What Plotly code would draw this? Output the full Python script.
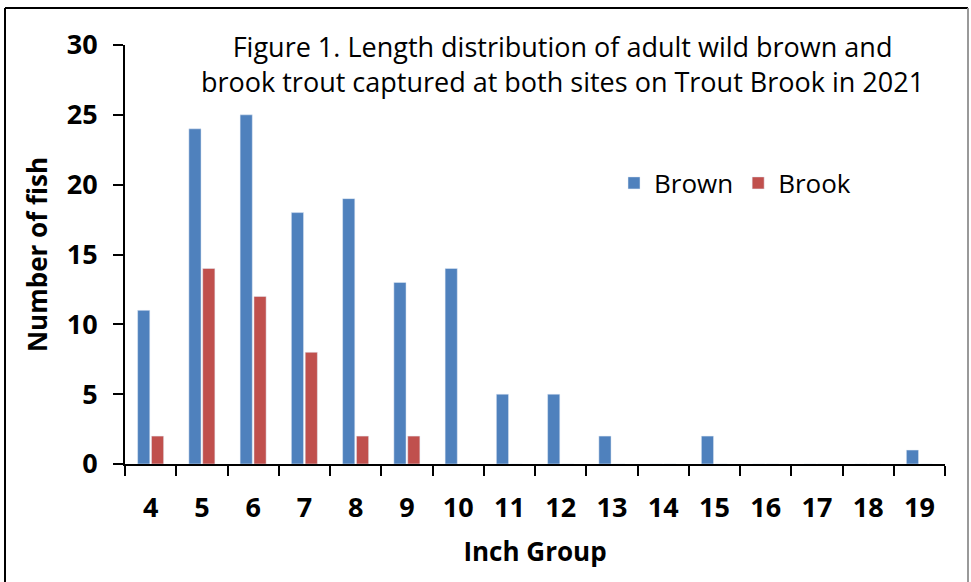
import plotly.graph_objects as go

inch_groups = ["4", "5", "6", "7", "8", "9", "10", "11", "12", "13", "14", "15", "16", "17", "18", "19"]
brown = [11, 24, 25, 18, 19, 13, 14, 5, 5, 2, 0, 2, 0, 0, 0, 1]
brook = [2, 14, 12, 8, 2, 2, 0, 0, 0, 0, 0, 0, 0, 0, 0, 0]

W, H = 971, 582
L, R, T, B = 125, 26, 45, 118
pw, ph = W - L - R, H - T - B

def px(x):
    return (x - L) / pw

def py(y):
    return (H - B - y) / ph

FONT = "Open Sans"

fig = go.Figure()
fig.add_trace(go.Bar(name="Brown", x=inch_groups, y=brown, marker_color="#4F81BD"))
fig.add_trace(go.Bar(name="Brook", x=inch_groups, y=brook, marker_color="#C0504D"))

fig.update_layout(
    width=W, height=H,
    margin=dict(l=L, r=R, t=T, b=B, autoexpand=False),
    paper_bgcolor="white", plot_bgcolor="white",
    barmode="group", bargap=0.46, bargroupgap=0.12,
    font=dict(family=FONT, color="black"),
    legend=dict(orientation="h", x=px(614), y=py(183), xanchor="left", yanchor="middle",
                font=dict(size=26, family=FONT), bgcolor="rgba(0,0,0,0)",
                itemwidth=30, tracegroupgap=0),
    xaxis=dict(showline=True, linecolor="black", linewidth=2, ticks="outside",
               tickson="boundaries", ticklen=10, tickwidth=2, tickcolor="black",
               tickfont=dict(size=27, family=FONT, weight="bold"), ticklabelstandoff=19,
               title=dict(text="<b>Inch Group</b>", font=dict(size=26, family=FONT), standoff=18),
               showgrid=False, automargin=False),
    yaxis=dict(range=[0, 30], dtick=5, showline=True, linecolor="black", linewidth=2,
               ticks="outside", ticklen=10, tickwidth=2, tickcolor="black",
               tickfont=dict(size=27, family=FONT, weight="bold"), ticklabelstandoff=10,
               title=dict(text="<b>Number of fish</b>", font=dict(size=26, family=FONT), standoff=12),
               showgrid=False, zeroline=False, automargin=False),
)

fig.add_annotation(text="Figure 1. Length distribution of adult wild brown and<br>brook trout captured at both sites on Trout Brook in 2021",
                   xref="paper", yref="paper", x=px(562), y=py(64), xanchor="center", yanchor="middle",
                   showarrow=False, font=dict(size=27, family=FONT), align="center")

# chart frame
fig.add_shape(type="line", xref="paper", yref="paper", x0=px(5), x1=px(968), y0=py(8), y1=py(8),
              line=dict(color="black", width=2))
fig.add_shape(type="line", xref="paper", yref="paper", x0=px(5), x1=px(5), y0=py(8), y1=py(590),
              line=dict(color="black", width=2))
fig.add_shape(type="line", xref="paper", yref="paper", x0=px(968), x1=px(968), y0=py(8), y1=py(590),
              line=dict(color="#999999", width=2))

fig.write_html("out.html", config={"displayModeBar": False},
               post_script="document.body.style.margin='0px';")
